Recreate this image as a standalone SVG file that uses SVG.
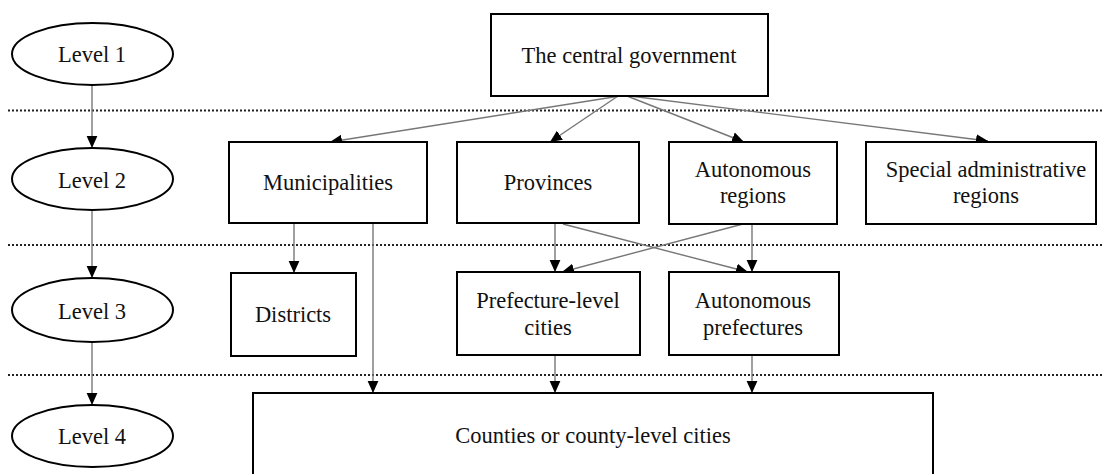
<svg xmlns="http://www.w3.org/2000/svg" width="1102" height="474" viewBox="0 0 1102 474">
<defs>
<marker id="ah" viewBox="0 0 10 10" refX="10" refY="5" markerWidth="12" markerHeight="12" markerUnits="userSpaceOnUse" orient="auto">
<path d="M0,0.5 L10,5 L0,9.5 Z" fill="#000"/>
</marker>
<style>
.box{fill:#fff;stroke:#000;stroke-width:2}
.ell{fill:#fff;stroke:#000;stroke-width:2}
.t{font-size:22.5px;fill:#111;text-anchor:middle}
.lv{font-size:22.5px;fill:#111;text-anchor:middle}
.sep{stroke:#222;stroke-width:2;stroke-dasharray:2,2}
.c{stroke:#777;stroke-width:1.4;fill:none;marker-end:url(#ah)}
</style>
</defs>
<rect width="1102" height="474" fill="#fff"/>
<g id="separators">
<line class="sep" x1="8" y1="110.5" x2="1102" y2="110.5"/>
<line class="sep" x1="8" y1="245" x2="1102" y2="245"/>
<line class="sep" x1="8" y1="375" x2="1102" y2="375"/>
</g>
<g id="connectors">
<line class="c" x1="92" y1="85" x2="92" y2="148"/>
<line class="c" x1="92" y1="210" x2="92" y2="278"/>
<line class="c" x1="92" y1="342" x2="92" y2="405"/>
<line class="c" x1="620" y1="96" x2="330" y2="142"/>
<line class="c" x1="618" y1="96" x2="550" y2="142"/>
<line class="c" x1="627" y1="96" x2="744" y2="142"/>
<line class="c" x1="630" y1="96" x2="988" y2="141"/>
<line class="c" x1="294" y1="223" x2="294" y2="273"/>
<line class="c" x1="373" y1="223" x2="373" y2="393"/>
<line class="c" x1="555" y1="223" x2="555" y2="272"/>
<line class="c" x1="563" y1="224" x2="748" y2="272"/>
<line class="c" x1="743" y1="224" x2="562" y2="272"/>
<line class="c" x1="752" y1="224" x2="752" y2="272"/>
<line class="c" x1="555" y1="355" x2="555" y2="393"/>
<line class="c" x1="752" y1="355" x2="752" y2="393"/>
</g>
<g font-family="Liberation Serif, Times New Roman, serif">
<g id="level1"><ellipse class="ell" cx="92.5" cy="54" rx="80.5" ry="31"/><text class="lv" x="92" y="62">Level 1</text></g>
<g id="level2"><ellipse class="ell" cx="92.5" cy="179" rx="80.5" ry="31"/><text class="lv" x="92" y="188">Level 2</text></g>
<g id="level3"><ellipse class="ell" cx="92.5" cy="310" rx="80.5" ry="32"/><text class="lv" x="92" y="319">Level 3</text></g>
<g id="level4"><ellipse class="ell" cx="92.5" cy="436" rx="80.5" ry="31"/><text class="lv" x="92" y="444">Level 4</text></g>
<g id="central"><rect class="box" x="491" y="14" width="277" height="82"/><text class="t" x="629" y="63">The central government</text></g>
<g id="municipalities"><rect class="box" x="229" y="142" width="198" height="81"/><text class="t" x="328" y="190">Municipalities</text></g>
<g id="provinces"><rect class="box" x="457" y="142" width="182" height="81"/><text class="t" x="548" y="190">Provinces</text></g>
<g id="autonomous-regions"><rect class="box" x="669" y="142" width="168" height="82"/><text class="t" x="753" y="177">Autonomous</text><text class="t" x="753" y="203">regions</text></g>
<g id="special"><rect class="box" x="866" y="142" width="230" height="82"/><text class="t" x="986" y="177">Special administrative</text><text class="t" x="986" y="203">regions</text></g>
<g id="districts"><rect class="box" x="231" y="273" width="125" height="83"/><text class="t" x="293" y="322">Districts</text></g>
<g id="prefecture-cities"><rect class="box" x="457" y="272" width="183" height="83"/><text class="t" x="548" y="308">Prefecture-level</text><text class="t" x="548" y="335">cities</text></g>
<g id="autonomous-prefectures"><rect class="box" x="669" y="272" width="170" height="83"/><text class="t" x="753" y="308">Autonomous</text><text class="t" x="753" y="335">prefectures</text></g>
<g id="counties"><rect class="box" x="253" y="393" width="680" height="90"/><text class="t" x="593" y="443">Counties or county-level cities</text></g>
</g>
</svg>
